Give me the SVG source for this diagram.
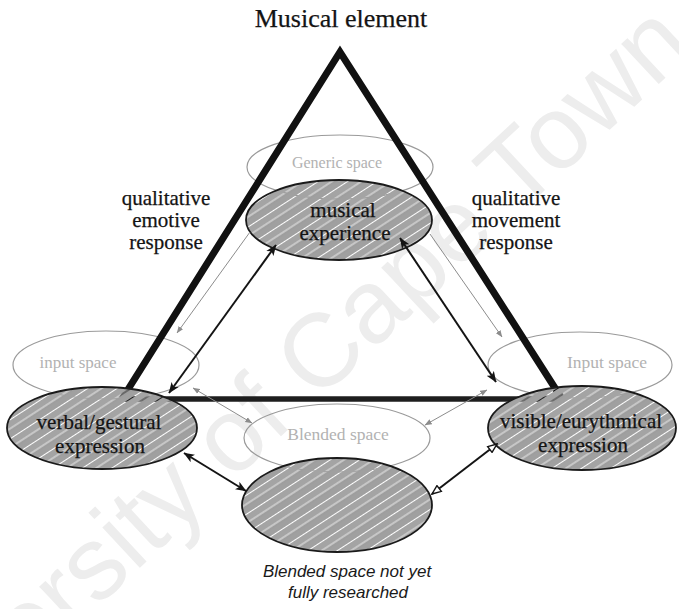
<svg xmlns="http://www.w3.org/2000/svg" width="679" height="609" viewBox="0 0 679 609">
<style>
.serif{font-family:"Liberation Serif",serif;fill:#141414;stroke:#141414;stroke-width:0.25}
.node{font-size:21px;text-anchor:middle}
.side{font-size:21px;text-anchor:middle}
.ghost{font-family:"Liberation Serif",serif;fill:#b2b2b2;text-anchor:middle}
.outline{fill:none;stroke:#9a9a9a;stroke-width:1.2}
.hatched{fill:url(#hatch);stroke:#1a1a1a;stroke-width:1.8}
.dark{fill:none;stroke:#141414;stroke-width:2}
.grey{fill:none;stroke:#8c8c8c;stroke-width:1}
.caption{font-family:"Liberation Sans",sans-serif;font-style:italic;font-size:17px;fill:#1a1a1a;text-anchor:middle}
</style>
<defs>
<pattern id="hatch" width="16" height="16" patternUnits="userSpaceOnUse" patternTransform="rotate(-33)">
<rect x="0" y="0" width="16" height="5" fill="#a0a0a0"/>
<rect x="0" y="6" width="16" height="6.6" fill="#a4a4a4"/>
<rect x="0" y="13.4" width="16" height="2.6" fill="#9e9e9e"/>
</pattern>
<marker id="ah" viewBox="0 0 10 8" refX="9.5" refY="4" markerWidth="11" markerHeight="9" markerUnits="userSpaceOnUse" orient="auto-start-reverse">
<path d="M0,0 L10,4 L0,8 L2.5,4 z" fill="#141414"/>
</marker>
<marker id="ahg" viewBox="0 0 10 8" refX="9.5" refY="4" markerWidth="7" markerHeight="6" markerUnits="userSpaceOnUse" orient="auto-start-reverse">
<path d="M0,0 L10,4 L0,8 z" fill="#8c8c8c"/>
</marker>
<marker id="aho" viewBox="0 0 12 10" refX="11" refY="5" markerWidth="11" markerHeight="9" markerUnits="userSpaceOnUse" orient="auto-start-reverse">
<path d="M1,1 L11,5 L1,9 z" fill="#ffffff" stroke="#141414" stroke-width="1.6"/>
</marker>
</defs>

<rect x="0" y="0" width="679" height="609" fill="#ffffff"/>

<text transform="translate(-123,813) rotate(-43)" font-family="Liberation Sans, sans-serif" font-size="104" fill="#ededed">University of Cape Town</text>

<text class="serif" x="341" y="27" font-size="26" text-anchor="middle">Musical element</text>

<g id="generic-space">
<ellipse class="outline" cx="340" cy="167" rx="93" ry="32"/>
<text class="ghost" x="337" y="168" font-size="16">Generic space</text>
</g>
<g id="input-space-left">
<ellipse class="outline" cx="106" cy="365" rx="93" ry="34"/>
<text class="ghost" x="78" y="368" font-size="17">input space</text>
</g>
<g id="input-space-right">
<ellipse class="outline" cx="580" cy="365" rx="92" ry="33"/>
<text class="ghost" x="607" y="368" font-size="17.5">Input space</text>
</g>
<g id="blended-space">
<ellipse class="outline" cx="337" cy="438" rx="93" ry="34"/>
<text class="ghost" x="338" y="440" font-size="17.5">Blended space</text>
</g>

<g id="triangle">
<polyline points="122,399 340,52 562,399" fill="none" stroke="#111" stroke-width="7" stroke-linejoin="miter" stroke-miterlimit="10"/>
<line x1="122" y1="399" x2="562" y2="399" stroke="#1e1e1e" stroke-width="5.5"/>
</g>

<g id="musical-experience">
<ellipse class="hatched" cx="339" cy="220" rx="93" ry="40"/>
<text class="serif node" x="343" y="217">musical</text>
<text class="serif node" x="345" y="240">experience</text>
</g>
<g id="verbal-gestural">
<ellipse class="hatched" cx="102" cy="428" rx="95" ry="41"/>
<text class="serif node" x="99" y="429">verbal/gestural</text>
<text class="serif node" x="100" y="453">expression</text>
</g>
<g id="visible-eurythmical">
<ellipse class="hatched" cx="582" cy="428" rx="94" ry="42"/>
<text class="serif node" x="581" y="428">visible/eurythmical</text>
<text class="serif node" x="583" y="452">expression</text>
</g>
<g id="blended-unresearched">
<ellipse class="hatched" cx="337" cy="505" rx="95" ry="47"/>
<text class="caption" x="347" y="577">Blended space not yet</text>
<text class="caption" x="348" y="598">fully researched</text>
</g>

<g id="labels">
<text class="serif side" x="166" y="205">qualitative</text>
<text class="serif side" x="166" y="227">emotive</text>
<text class="serif side" x="166" y="249">response</text>
<text class="serif side" x="516" y="205">qualitative</text>
<text class="serif side" x="516" y="227">movement</text>
<text class="serif side" x="516" y="249">response</text>
</g>

<g id="connectors">
<line class="dark" x1="276" y1="245" x2="169" y2="393" marker-start="url(#ah)" marker-end="url(#ah)"/>
<line class="dark" x1="400" y1="238" x2="496" y2="382" marker-start="url(#ah)" marker-end="url(#ah)"/>
<line class="grey" x1="250" y1="232" x2="177" y2="333" marker-end="url(#ahg)"/>
<line class="grey" x1="430" y1="234" x2="502" y2="337" marker-end="url(#ahg)"/>
<line class="grey" x1="193" y1="388" x2="252" y2="423" marker-start="url(#ahg)" marker-end="url(#ahg)"/>
<line class="grey" x1="487" y1="390" x2="425" y2="425" marker-start="url(#ahg)" marker-end="url(#ahg)"/>
<line class="dark" x1="184" y1="453" x2="246" y2="491" marker-start="url(#ah)" marker-end="url(#ah)"/>
<line class="dark" x1="497" y1="444" x2="432" y2="494" marker-start="url(#aho)" marker-end="url(#aho)"/>
</g>
</svg>
